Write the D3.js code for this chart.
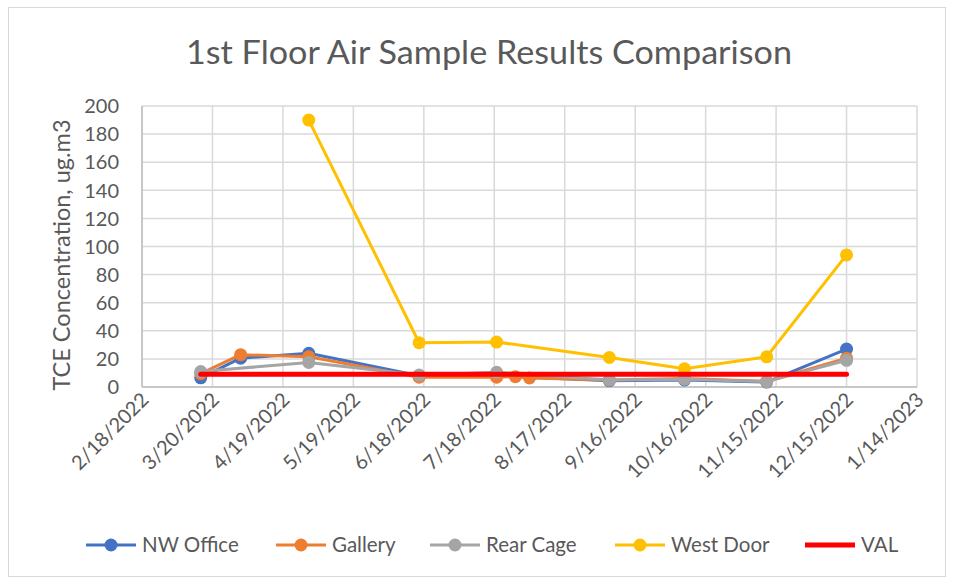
<!DOCTYPE html>
<html><head><meta charset="utf-8">
<script src="https://cdn.jsdelivr.net/npm/d3@7"></script>
<style>
body{margin:0;background:#fff;}
text{font-family:Lato,"Open Sans",sans-serif;fill:#595959;}
</style></head>
<body><svg id="c" width="953" height="580"></svg>
<script>
const title = "1st Floor Air Sample Results Comparison";
const yLabel = "TCE Concentration, ug.m3";
const xTickLabels = ["2/18/2022","3/20/2022","4/19/2022","5/19/2022","6/18/2022","7/18/2022","8/17/2022","9/16/2022","10/16/2022","11/15/2022","12/15/2022","1/14/2023"];
const yTicks = [0,20,40,60,80,100,120,140,160,180,200];

const nwDates = ["3/15/2022","4/1/2022","4/30/2022","6/16/2022","7/19/2022","9/5/2022","10/7/2022","11/11/2022","12/15/2022"];
const nwValues = [6.5,20.5,24,8,8,4.5,5,3.5,27];
const galDates = ["3/15/2022","4/1/2022","4/30/2022","6/16/2022","7/19/2022","7/27/2022","8/2/2022","9/5/2022","10/7/2022","11/11/2022","12/15/2022"];
const galValues = [9.5,23,21.5,7,7,7.3,6.4,5,6,4,20.5];
const rearDates = ["3/15/2022","4/30/2022","6/16/2022","7/19/2022","9/5/2022","10/7/2022","11/11/2022","12/15/2022"];
const rearValues = [11,17.5,8.5,10.5,5,5.5,3.8,19];
const westDates = ["4/30/2022","6/16/2022","7/19/2022","9/5/2022","10/7/2022","11/11/2022","12/15/2022"];
const westValues = [190,31.5,32,21,13,21.5,94];
const valDates = ["3/15/2022","12/15/2022"];
const valValues = [9,9];

const seriesNames = ["NW Office","Gallery","Rear Cage","West Door","VAL"];
const seriesColors = ["#4472C4","#ED7D31","#A5A5A5","#FFC000","#FF0000"];

const parse = d3.timeParse("%m/%d/%Y");
const series = [
  {dates:nwDates, values:nwValues, marker:true},
  {dates:galDates, values:galValues, marker:true},
  {dates:rearDates, values:rearValues, marker:true},
  {dates:westDates, values:westValues, marker:true},
  {dates:valDates, values:valValues, marker:false}
].map((s,i)=>({name:seriesNames[i], color:seriesColors[i], marker:s.marker,
  pts:s.dates.map((d,j)=>({x:parse(d), y:s.values[j]}))}));

const svg = d3.select("#c");
const L=142, R=917, T=106, B=387;
const tickDates = xTickLabels.map(parse);
const x = d3.scaleTime().domain([tickDates[0], tickDates[tickDates.length-1]]).range([L,R]);
const y = d3.scaleLinear().domain([0,200]).range([B,T]);

// chart border
svg.append("rect").attr("x",8.5).attr("y",7.5).attr("width",937).attr("height",569)
  .attr("fill","#fff").attr("stroke","#d9d9d9").attr("stroke-width",1);

// title
svg.append("text").attr("x",489).attr("y",64).attr("text-anchor","middle")
  .attr("font-size",33).attr("textLength",606).attr("lengthAdjust","spacingAndGlyphs").text(title);

// grid
const g = svg.append("g");
g.selectAll(".hy").data(yTicks).join("line")
  .attr("x1",L).attr("x2",R).attr("y1",d=>y(d)).attr("y2",d=>y(d))
  .attr("stroke","#d9d9d9").attr("stroke-width",1.5);
g.selectAll(".vx").data(tickDates).join("line")
  .attr("x1",d=>x(d)).attr("x2",d=>x(d)).attr("y1",T).attr("y2",B)
  .attr("stroke","#d9d9d9").attr("stroke-width",1.5);
// axis lines
g.append("line").attr("x1",L).attr("x2",R).attr("y1",B).attr("y2",B).attr("stroke","#bfbfbf").attr("stroke-width",1.5);
g.append("line").attr("x1",L).attr("x2",L).attr("y1",T).attr("y2",B).attr("stroke","#bfbfbf").attr("stroke-width",1.5);

// y tick labels
svg.selectAll(".yl").data(yTicks).join("text")
  .attr("x",119).attr("y",d=>y(d)).attr("dy","0.36em").attr("text-anchor","end")
  .attr("font-size",20).text(d=>d);
// x tick labels
svg.selectAll(".xl").data(tickDates).join("text")
  .attr("text-anchor","end").attr("font-size",20)
  .attr("transform",(d)=>`translate(${x(d)+8},${401}) rotate(-45)`)
  .text((d,i)=>xTickLabels[i]);
// y axis label
svg.append("text").attr("transform","translate(70,255) rotate(-90)")
  .attr("text-anchor","middle").attr("font-size",23.5).text(yLabel);

// series
const line = d3.line().x(d=>x(d.x)).y(d=>y(d.y));
series.forEach(s=>{
  const sg = svg.append("g");
  sg.append("path").datum(s.pts).attr("d",line).attr("fill","none")
    .attr("stroke",s.color).attr("stroke-width",s.marker?3:5).attr("stroke-linejoin","round").attr("stroke-linecap","round");
  if(s.marker){
    sg.selectAll("circle").data(s.pts).join("circle")
      .attr("cx",d=>x(d.x)).attr("cy",d=>y(d.y)).attr("r",6.5).attr("fill",s.color);
  }
});

// legend
const legX = [86,276,430,615,805];
const lg = svg.append("g");
series.forEach((s,i)=>{
  const lx = legX[i], ly = 545;
  lg.append("line").attr("x1",lx).attr("x2",lx+50).attr("y1",ly).attr("y2",ly)
    .attr("stroke",s.color).attr("stroke-width",s.marker?3:5);
  if(s.marker) lg.append("circle").attr("cx",lx+25).attr("cy",ly).attr("r",6.5).attr("fill",s.color);
  lg.append("text").attr("x",lx+56).attr("y",ly).attr("dy","0.36em").attr("font-size",20.5).text(s.name);
});
</script></body></html>
